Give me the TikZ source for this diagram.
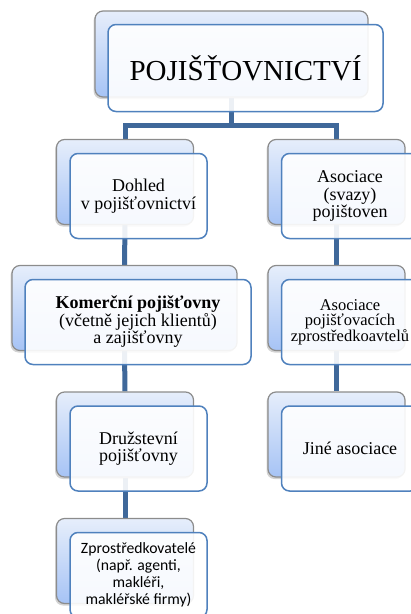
\documentclass[tikz,border=0pt]{standalone}
\usepackage{fontspec}
\setmainfont{Liberation Serif}
\newfontfamily\calibrifont{Carlito}
\usepackage{xcolor}
\usepackage{tikz}
\usetikzlibrary{shadows, backgrounds, positioning}
\definecolor{linkblue}{RGB}{63,104,154}
\definecolor{frameblue}{RGB}{79,129,189}
\definecolor{lightblue}{RGB}{230,238,251}
\definecolor{midblue}{RGB}{166,195,245}
\tikzstyle{link} = [line width=5pt, draw=linkblue]
\tikzstyle{backbox} = [rectangle, rounded corners=8pt, draw=gray!90, line width=1.2pt, top color=lightblue, bottom color=midblue, minimum width=137pt, minimum height=85pt, drop shadow={shadow xshift=-1.5pt, shadow yshift=-2pt, opacity=0.35}]
\tikzstyle{frontbox} = [rectangle, rounded corners=8pt, draw=frameblue, line width=1.5pt, fill=white, fill opacity=0.9, text opacity=1, minimum width=137pt, minimum height=85pt, align=center, font=\rmfamily\fontsize{18}{17.5}\selectfont]

\begin{document}
\begin{tikzpicture}[x=1pt, y=-1pt]
  \useasboundingbox (0,0) rectangle (411,614);

  % Back boxes
  \node (top-back) [backbox, minimum width=273pt, minimum height=86pt] at (231.5,54) {};
  \node (dohled-back) [backbox] at (125,182) {};
  \node (komercni-back) [backbox, minimum width=225pt] at (124.5,308) {};
  \node (druzstevni-back) [backbox] at (125,434.5) {};
  \node (zprostr-back) [backbox] at (125,561) {};
  \node (svazy-back) [backbox] at (336.5,182) {};
  \node (asoc-back) [backbox] at (336.5,308) {};
  \node (jine-back) [backbox] at (336.5,434.5) {};

  % Front boxes with texts
  \node (top) [frontbox, minimum width=275pt, minimum height=87pt, font=\rmfamily\fontsize{29}{30}\selectfont] at ([shift={(14,14)}]top-back.center) {POJIŠŤOVNICTVÍ};
  \node (dohled) [frontbox] at ([shift={(13.5,14)}]dohled-back.center) {Dohled\\v pojišťovnictví};
  \node (komercni) [frontbox, minimum width=226pt] at ([shift={(13.5,14)}]komercni-back.center) {\textbf{Komerční pojišťovny}\\(včetně jejich klientů)\\a zajišťovny};
  \node (druzstevni) [frontbox] at ([shift={(13.5,14)}]druzstevni-back.center) {Družstevní\\pojišťovny};
  \node (zprostr) [frontbox, font=\calibrifont\fontsize{15.7}{17}\selectfont] at ([shift={(13.5,14)}]zprostr-back.center) {Zprostředkovatelé\\(např. agenti,\\makléři,\\makléřské firmy)};
  \node (svazy) [frontbox] at ([shift={(13.5,14)}]svazy-back.center) {Asociace\\(svazy)\\pojištoven};
  \node (asoc) [frontbox, font=\rmfamily\fontsize{16.5}{15.5}\selectfont] at ([shift={(13.5,14)}]asoc-back.center) {Asociace\\pojišťovacích\\zprostředkoavtelů};
  \node (jine) [frontbox] at ([shift={(13.5,14)}]jine-back.center) {Jiné asociace};

  % Connectors
  \coordinate (split) at (231.5,125);
  \begin{scope}[on background layer]
    \draw[link] (top-back.south) -- (split);
    \draw[link] (split) -| (dohled-back.north);
    \draw[link] (split) -| (svazy-back.north);
    \draw[link] (dohled-back.south) -- (komercni-back.north);
    \draw[link] (komercni-back.south) -- (druzstevni-back.north);
    \draw[link] (druzstevni-back.south) -- (zprostr-back.north);
    \draw[link] (svazy-back.south) -- (asoc-back.north);
    \draw[link] (asoc-back.south) -- (jine-back.north);
  \end{scope}

\end{tikzpicture}
\end{document}
